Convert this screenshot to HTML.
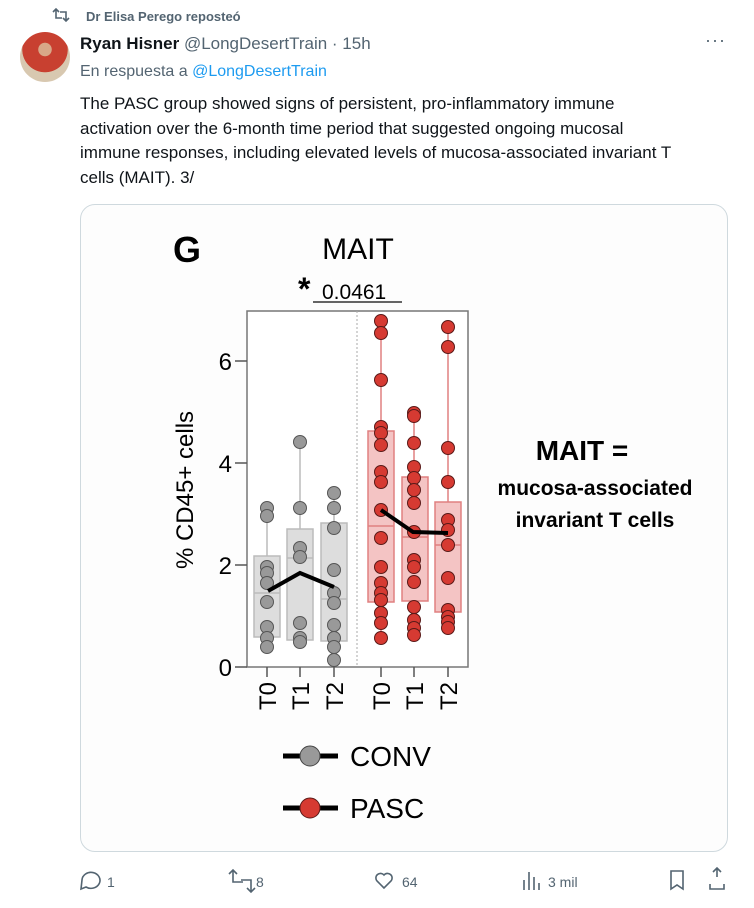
<!DOCTYPE html>
<html><head><meta charset="utf-8"><style>
body{margin:0;width:754px;height:908px;background:#fff;font-family:"Liberation Sans",sans-serif;color:#0f1419;position:relative;overflow:hidden}
.a{position:absolute;white-space:nowrap}
.g{color:#536471}
</style></head><body>
<svg class="a" style="left:51px;top:7px" width="20" height="16"><g fill="none" stroke="#536471" stroke-width="1.6"><path d="M2,5 l3,-3 3,3 M5,2 v9 h6 M18,11 l-3,3 -3,-3 M15,14 v-9 h-6"/></g></svg>
<div class="a g" style="left:86px;top:9px;font-size:13px;font-weight:bold">Dr Elisa Perego reposteó</div>
<div class="a" style="left:20px;top:32px;width:50px;height:50px;border-radius:50%;background:radial-gradient(circle at 50% 35%,#d8a888 0 16%,#c84030 17% 55%,#d8c8b0 56%)"></div>
<div class="a" style="left:80px;top:34px;font-size:17px"><b>Ryan Hisner</b> <span class="g">@LongDesertTrain · 15h</span></div>
<div class="a g" style="left:705px;top:30px;font-size:18px;letter-spacing:1px">···</div>
<div class="a g" style="left:80px;top:63px;font-size:16px">En respuesta a <span style="color:#1d9bf0">@LongDesertTrain</span></div>
<div class="a" style="left:80px;top:92px;font-size:17px;line-height:24.5px">The PASC group showed signs of persistent, pro-inflammatory immune<br>activation over the 6-month time period that suggested ongoing mucosal<br>immune responses, including elevated levels of mucosa-associated invariant T<br>cells (MAIT). 3/</div>
<div class="a" style="left:80px;top:204px;width:646px;height:646px;border:1px solid #cfd9de;border-radius:15px;background:#fdfdfd"></div>
<svg class="a" style="left:0;top:0" width="754" height="908">
<text x="173" y="262" font-size="36" font-weight="bold" font-family="Liberation Sans">G</text>
<text x="358" y="259" font-size="30" text-anchor="middle" font-family="Liberation Sans">MAIT</text>
<text x="298" y="300" font-size="32" font-weight="bold">*</text>
<text x="322" y="299" font-size="21">0.0461</text>
<line x1="313" y1="302" x2="402" y2="302" stroke="#333" stroke-width="1.5"/>
<rect x="247" y="311" width="221" height="356" fill="#fff" stroke="#777" stroke-width="1.5"/>
<line x1="357" y1="311" x2="357" y2="667" stroke="#aaa" stroke-dasharray="2,2"/>
<g stroke="#555" stroke-width="1.5">
<line x1="235" y1="361" x2="247" y2="361"/><line x1="235" y1="463" x2="247" y2="463"/><line x1="235" y1="565" x2="247" y2="565"/><line x1="235" y1="667" x2="247" y2="667"/>
<line x1="267" y1="667" x2="267" y2="677"/><line x1="300" y1="667" x2="300" y2="677"/><line x1="334" y1="667" x2="334" y2="677"/><line x1="381" y1="667" x2="381" y2="677"/><line x1="414" y1="667" x2="414" y2="677"/><line x1="448" y1="667" x2="448" y2="677"/>
</g>
<g font-size="24" text-anchor="end"><text x="232" y="370">6</text><text x="232" y="472">4</text><text x="232" y="574">2</text><text x="232" y="676">0</text></g>
<text transform="translate(193,490) rotate(-90)" font-size="24" text-anchor="middle">% CD45+ cells</text>
<g font-size="24" text-anchor="end">
<text transform="translate(276,682) rotate(-90)">T0</text><text transform="translate(309,682) rotate(-90)">T1</text><text transform="translate(343,682) rotate(-90)">T2</text>
<text transform="translate(390,682) rotate(-90)">T0</text><text transform="translate(423,682) rotate(-90)">T1</text><text transform="translate(457,682) rotate(-90)">T2</text>
</g>
<g stroke="#bbb" stroke-width="1.5" fill="#ddd">
<line x1="267" y1="508" x2="267" y2="647"/><rect x="254" y="556" width="26" height="81"/><line x1="254" y1="593" x2="280" y2="593"/>
<line x1="300" y1="442" x2="300" y2="642"/><rect x="287" y="529" width="26" height="111"/><line x1="287" y1="558" x2="313" y2="558"/>
<line x1="334" y1="493" x2="334" y2="660"/><rect x="321" y="523" width="26" height="118"/><line x1="321" y1="599" x2="347" y2="599"/>
</g>
<g stroke="#e08080" stroke-width="1.5" fill="#f4c4c4">
<line x1="381" y1="321" x2="381" y2="638"/><rect x="368" y="431" width="26" height="171"/><line x1="368" y1="526" x2="394" y2="526"/>
<line x1="414" y1="413" x2="414" y2="635"/><rect x="402" y="477" width="26" height="124"/><line x1="402" y1="537" x2="428" y2="537"/>
<line x1="448" y1="327" x2="448" y2="628"/><rect x="435" y="502" width="26" height="110"/><line x1="435" y1="545" x2="461" y2="545"/>
</g>
<g fill="#999" stroke="#555" stroke-width="1">
<circle cx="267" cy="508" r="6.5"/><circle cx="267" cy="516" r="6.5"/><circle cx="267" cy="567" r="6.5"/><circle cx="267" cy="573" r="6.5"/><circle cx="267" cy="583" r="6.5"/><circle cx="267" cy="602" r="6.5"/><circle cx="267" cy="627" r="6.5"/><circle cx="267" cy="638" r="6.5"/><circle cx="267" cy="647" r="6.5"/>
<circle cx="300" cy="442" r="6.5"/><circle cx="300" cy="508" r="6.5"/><circle cx="300" cy="548" r="6.5"/><circle cx="300" cy="557" r="6.5"/><circle cx="300" cy="623" r="6.5"/><circle cx="300" cy="638" r="6.5"/><circle cx="300" cy="642" r="6.5"/>
<circle cx="334" cy="493" r="6.5"/><circle cx="334" cy="508" r="6.5"/><circle cx="334" cy="528" r="6.5"/><circle cx="334" cy="570" r="6.5"/><circle cx="334" cy="593" r="6.5"/><circle cx="334" cy="603" r="6.5"/><circle cx="334" cy="625" r="6.5"/><circle cx="334" cy="638" r="6.5"/><circle cx="334" cy="647" r="6.5"/><circle cx="334" cy="660" r="6.5"/>
</g>
<g fill="#d63a32" stroke="#5a1a18" stroke-width="1">
<circle cx="381" cy="321" r="6.5"/><circle cx="381" cy="333" r="6.5"/><circle cx="381" cy="380" r="6.5"/><circle cx="381" cy="427" r="6.5"/><circle cx="381" cy="433" r="6.5"/><circle cx="381" cy="445" r="6.5"/><circle cx="381" cy="472" r="6.5"/><circle cx="381" cy="482" r="6.5"/><circle cx="381" cy="510" r="6.5"/><circle cx="381" cy="538" r="6.5"/><circle cx="381" cy="567" r="6.5"/><circle cx="381" cy="583" r="6.5"/><circle cx="381" cy="593" r="6.5"/><circle cx="381" cy="600" r="6.5"/><circle cx="381" cy="613" r="6.5"/><circle cx="381" cy="623" r="6.5"/><circle cx="381" cy="638" r="6.5"/>
<circle cx="414" cy="413" r="6.5"/><circle cx="414" cy="416" r="6.5"/><circle cx="414" cy="443" r="6.5"/><circle cx="414" cy="467" r="6.5"/><circle cx="414" cy="478" r="6.5"/><circle cx="414" cy="490" r="6.5"/><circle cx="414" cy="503" r="6.5"/><circle cx="414" cy="532" r="6.5"/><circle cx="414" cy="560" r="6.5"/><circle cx="414" cy="567" r="6.5"/><circle cx="414" cy="582" r="6.5"/><circle cx="414" cy="607" r="6.5"/><circle cx="414" cy="620" r="6.5"/><circle cx="414" cy="628" r="6.5"/><circle cx="414" cy="635" r="6.5"/>
<circle cx="448" cy="327" r="6.5"/><circle cx="448" cy="347" r="6.5"/><circle cx="448" cy="448" r="6.5"/><circle cx="448" cy="482" r="6.5"/><circle cx="448" cy="520" r="6.5"/><circle cx="448" cy="530" r="6.5"/><circle cx="448" cy="545" r="6.5"/><circle cx="448" cy="578" r="6.5"/><circle cx="448" cy="610" r="6.5"/><circle cx="448" cy="617" r="6.5"/><circle cx="448" cy="622" r="6.5"/><circle cx="448" cy="628" r="6.5"/>
</g>
<polyline points="268,591 300,573 334,587" fill="none" stroke="#000" stroke-width="4"/>
<polyline points="381,510 413,532 448,533" fill="none" stroke="#000" stroke-width="4"/>
<line x1="283" y1="756" x2="338" y2="756" stroke="#000" stroke-width="5"/>
<circle cx="310" cy="756" r="10" fill="#999" stroke="#444"/>
<text x="350" y="766" font-size="28">CONV</text>
<line x1="283" y1="808" x2="338" y2="808" stroke="#000" stroke-width="5"/>
<circle cx="310" cy="808" r="10" fill="#d63a32" stroke="#5a1a18"/>
<text x="350" y="818" font-size="28">PASC</text>
<g font-weight="bold" text-anchor="middle">
<text x="582" y="460" font-size="28">MAIT =</text>
<text x="595" y="495" font-size="21">mucosa-associated</text>
<text x="595" y="527" font-size="21">invariant T cells</text>
</g>
<g fill="none" stroke="#536471" stroke-width="1.6">
<path d="M82,880 a9,8 0 1,1 4,7 l-5,2 z"/>
<path d="M229,874 l4,-4 4,4 M233,870 v12 h10 M247,888 l4,4 4,-4 M251,892 v-12 h-10"/>
<path d="M384,888 l-7,-7 a4.5,4.5 0 0,1 7,-6 a4.5,4.5 0 0,1 7,6 z"/>
<path d="M524,890 v-10 M529,890 v-18 M534,890 v-13 M539,890 v-7"/>
<path d="M671,871 h12 v18 l-6,-4 -6,4 z"/>
<path d="M717,877 v-9 M713,872 l4,-4 4,4 M710,884 v5 h14 v-5"/>
</g>
<g font-size="14" fill="#536471"><text x="107" y="887">1</text><text x="256" y="887">8</text><text x="402" y="887">64</text><text x="548" y="887">3 mil</text></g>
</svg>
</body></html>
